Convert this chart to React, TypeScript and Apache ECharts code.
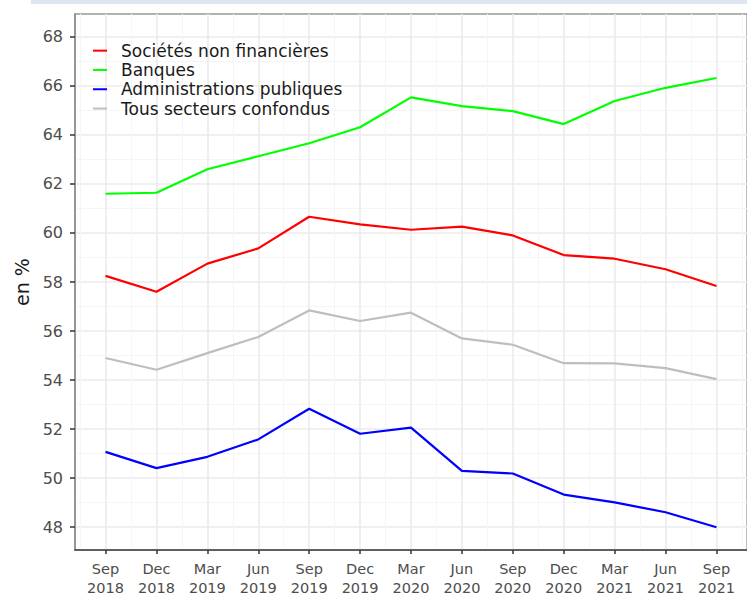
import React, { useEffect, useRef } from "react";
import * as echarts from "echarts";

const quarters = [
  "Sep 2018", "Dec 2018", "Mar 2019", "Jun 2019", "Sep 2019", "Dec 2019", "Mar 2020",
  "Jun 2020", "Sep 2020", "Dec 2020", "Mar 2021", "Jun 2021", "Sep 2021",
];
const seriesNames = [
  "Sociétés non financières",
  "Banques",
  "Administrations publiques",
  "Tous secteurs confondus",
];
const snf = [58.25, 57.6, 58.75, 59.37, 60.66, 60.35, 60.13, 60.26, 59.9, 59.1, 58.95, 58.52, 57.84];
const banques = [61.6, 61.64, 62.6, 63.13, 63.66, 64.31, 65.53, 65.17, 64.97, 64.44, 65.38, 65.92, 66.32];
const apu = [51.07, 50.41, 50.87, 51.58, 52.83, 51.81, 52.06, 50.3, 50.19, 49.33, 49.01, 48.61, 48.0];
const total = [54.9, 54.42, 55.1, 55.76, 56.84, 56.41, 56.75, 55.7, 55.44, 54.69, 54.68, 54.49, 54.04];
const yTicks = [48, 50, 52, 54, 56, 58, 60, 62, 64, 66, 68];
const colors = ["#ff0000", "#00ff00", "#0000ff", "#bebebe"];

const FONT = "DejaVu Sans";

export default function App() {
  const ref = useRef<HTMLDivElement>(null);
  useEffect(() => {
    if (!ref.current) return;
    const chart = echarts.init(ref.current, null, { renderer: "svg" });
    const all = [snf, banques, apu, total];
    const xIdx = quarters.map((_, i) => i);
    chart.setOption({
      animation: false,
      backgroundColor: "#ffffff",
      textStyle: { fontFamily: FONT },
      graphic: [
        { type: "rect", left: 31, top: 0, shape: { width: 716, height: 4 }, style: { fill: "#dde5f0" }, z: 0 },
      ],
      grid: {
        left: 75,
        top: 14,
        right: -3,
        bottom: 44,
        show: true,
        backgroundColor: "#ffffff",
        borderColor: "#999999",
        borderWidth: 1.3,
        containLabel: false,
      },
      legend: {
        orient: "vertical",
        left: 93,
        top: 41,
        padding: 0,
        itemGap: 0,
        itemWidth: 14,
        itemHeight: 2,
        icon: "rect",
        selectedMode: false,
        textStyle: {
          fontFamily: FONT,
          fontSize: 17,
          lineHeight: 19.3,
          color: "#1a1a1a",
          padding: [0, 0, 0, 9],
        },
        data: seriesNames,
      },
      xAxis: {
        type: "value",
        min: -0.6,
        max: 12.6,
        splitNumber: 13,
        minInterval: 1,
        maxInterval: 1,
        axisLine: { show: true, onZero: false, lineStyle: { color: "#444444", width: 1.5 } },
        axisTick: { show: true, length: 4, lineStyle: { color: "#333333", width: 1.5 }, customValues: xIdx },
        axisLabel: {
          customValues: xIdx,
          margin: 9,
          fontFamily: FONT,
          fontSize: 14.5,
          lineHeight: 19,
          color: "#4d4d4d",
          formatter: (v: number) => {
            const r = Math.round(v);
            if (Math.abs(v - r) > 1e-6 || r < 0 || r >= quarters.length) return "";
            return quarters[r].replace(" ", "\n");
          },
        },
        splitLine: { show: true, lineStyle: { color: "#ebebeb", width: 1.6 } },
        minorTick: { show: false, splitNumber: 2 },
        minorSplitLine: { show: true, lineStyle: { color: "#f5f5f5", width: 1 } },
      },
      yAxis: {
        type: "value",
        min: 47.07,
        max: 68.93,
        splitNumber: 10,
        minInterval: 2,
        maxInterval: 2,
        name: "en %",
        nameLocation: "middle",
        nameRotate: 90,
        nameGap: 43,
        nameTextStyle: { fontFamily: FONT, fontSize: 19, color: "#1a1a1a" },
        axisLine: { show: true, onZero: false, lineStyle: { color: "#888888", width: 1.5 } },
        axisTick: { show: true, length: 5, lineStyle: { color: "#333333", width: 1.5 }, customValues: yTicks },
        axisLabel: {
          customValues: yTicks,
          margin: 12,
          fontFamily: FONT,
          fontSize: 16,
          color: "#4d4d4d",
          formatter: (v: number) => {
            const r = Math.round(v);
            if (Math.abs(v - r) > 1e-6 || r % 2 !== 0) return "";
            return String(r);
          },
        },
        splitLine: { show: true, lineStyle: { color: "#ebebeb", width: 1.6 } },
        minorTick: { show: false, splitNumber: 2 },
        minorSplitLine: { show: true, lineStyle: { color: "#f5f5f5", width: 1 } },
      },
      series: seriesNames.map((name, k) => ({
        name,
        type: "line",
        showSymbol: false,
        symbol: "none",
        color: colors[k],
        lineStyle: { color: colors[k], width: 2.2 },
        data: all[k].map((v, i) => [i, v]),
        z: 3,
      })),
    });
    return () => chart.dispose();
  }, []);
  return (
    <div
      ref={ref}
      style={{ position: "fixed", left: 0, top: 0, width: 747, height: 597, background: "#fff" }}
    />
  );
}
